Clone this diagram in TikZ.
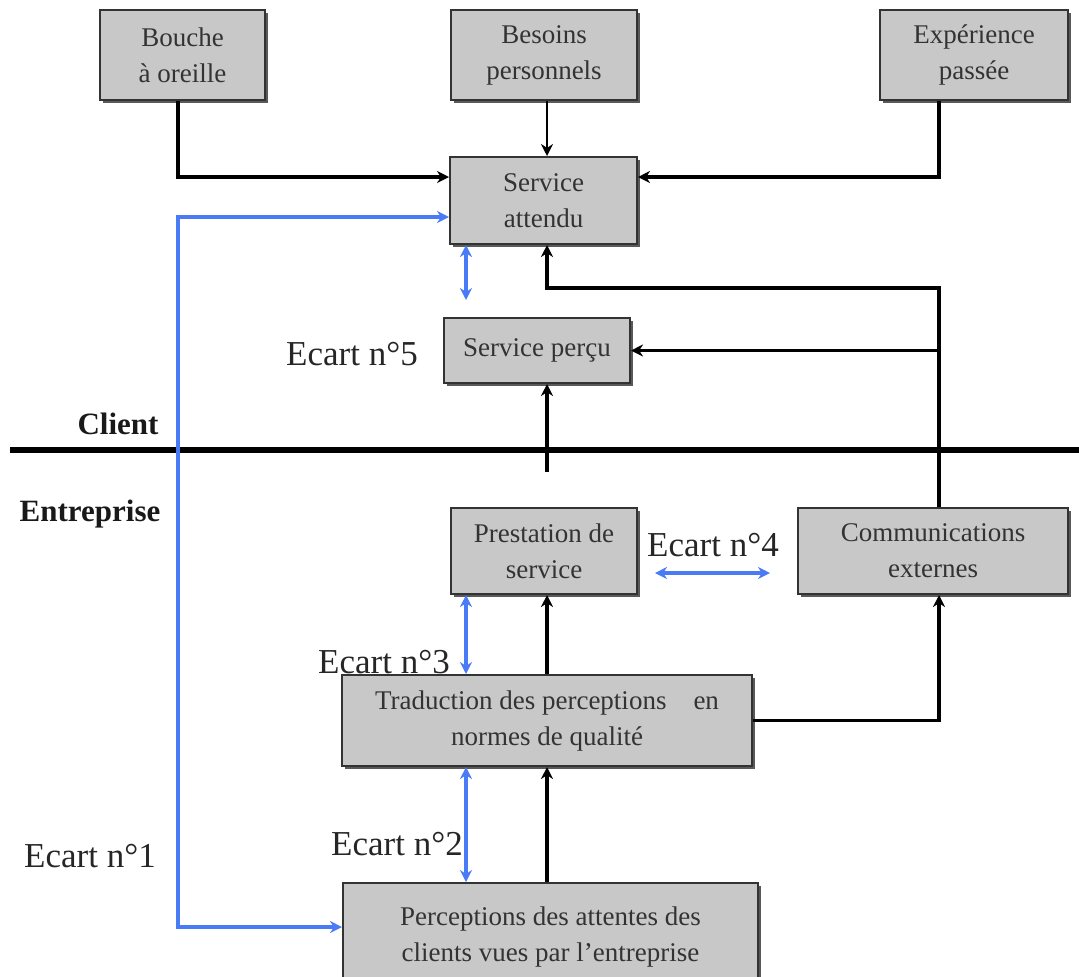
\documentclass[tikz,border=0pt]{standalone}
\usepackage{fontspec}
\setmainfont{Liberation Serif}
\usetikzlibrary{arrows.meta,shadows}
\definecolor{bleu}{RGB}{74,123,247}
\definecolor{gris}{RGB}{200,200,200}
\tikzset{
  boite/.style={draw=black!80,line width=1pt,fill=gris,align=center,inner sep=0pt,
    drop shadow={shadow xshift=1.5pt,shadow yshift=-1.5pt,fill=black!65,opacity=1},
    text=black!80,font=\fontsize{13.5}{18}\selectfont},
  fleche/.style={line width=1.9pt,-{Stealth[length=6pt,width=6pt]}},
  ecart/.style={bleu,line width=1.9pt,{Stealth[length=6pt,width=6pt]}-{Stealth[length=6pt,width=6pt]}},
  etiq/.style={text=black!85,font=\fontsize{17.5}{20}\selectfont},
  camp/.style={text=black!90,font=\fontsize{15.5}{18}\selectfont\bfseries},
}
\begin{document}
\begin{tikzpicture}[x=0.5pt,y=-0.5pt]
  \useasboundingbox (0,0) rectangle (1079,976);
  \clip (0,0) rectangle (1079,976);
  % colonnes et niveaux des liaisons
  \coordinate (xb) at (178,0);
  \coordinate (xe) at (466,0);
  \coordinate (xm) at (547,0);
  \coordinate (xc) at (939,0);
  \coordinate (h1) at (0,177);
  \coordinate (h2) at (0,288);
  \coordinate (h3) at (0,472);
  \coordinate (h4) at (0,217);
  \coordinate (h5) at (0,927);
  % boites
  \node[boite,minimum width=82.5pt,minimum height=45pt] (bouche) at (182.5,55) {Bouche\\à oreille};
  \node[boite,minimum width=93pt,minimum height=45pt] (besoins) at (544,55) {Besoins\\personnels};
  \node[boite,minimum width=94pt,minimum height=45pt] (experience) at (974,55) {Expérience\\passée};
  \node[boite,minimum width=93.5pt,minimum height=43.5pt] (attendu) at (543.5,200.5) {Service\\attendu};
  \node[boite,minimum width=93pt,minimum height=32.5pt] (percu) at (537,350.5) {Service perçu};
  \node[boite,minimum width=93pt,minimum height=43pt] (prestation) at (544,551) {Prestation de\\service};
  \node[boite,minimum width=135pt,minimum height=43pt] (comm) at (933,551) {Communications\\externes};
  \node[boite,minimum width=205pt,minimum height=45.5pt] (traduction) at (547,720.5) {Traduction des perceptions\quad en\\normes de qualité};
  \node[boite,minimum width=207.5pt,minimum height=53.5pt] (perceptions) at (550.5,936.5) {Perceptions des attentes des\\clients vues par l'entreprise};
  % etiquettes
  \node[etiq] (ecart5) at (352,354) {Ecart n°5};
  \node[etiq] (ecart4) at (713,545) {Ecart n°4};
  \node[etiq] (ecart3) at (384,662) {Ecart n°3};
  \node[etiq] (ecart2) at (397,844) {Ecart n°2};
  \node[etiq] (ecart1) at (90,856) {Ecart n°1};
  \node[camp] (client) at (118,424) {Client};
  \node[camp] (entreprise) at (90,514) {Entreprise};
  \draw[line width=2.6pt] (10,450) -- (1079,450);
  % liaisons noires
  \draw[fleche,line width=2.3pt] (bouche.south -| xb) |- (attendu.west |- h1);
  \draw[fleche,line width=1.2pt] (besoins.south -| xm) -- (attendu.north -| xm);
  \draw[fleche] (experience.south -| xc) |- (attendu.east |- h1);
  \draw[fleche] (comm.north -| xc) |- (xm |- h2) -- (attendu.south -| xm);
  \draw[fleche] (xc |- percu.east) -- (percu.east);
  \draw[fleche] (xm |- h3) -- (percu.south -| xm);
  \draw[fleche] (traduction.north -| xm) -- (prestation.south -| xm);
  \draw[fleche] (traduction.east) -| (comm.south -| xc);
  \draw[fleche] (perceptions.north -| xm) -- (traduction.south -| xm);
  % ecarts
  \draw[ecart] (attendu.west |- h4) -- (xb |- h4) -- (xb |- h5) -- (perceptions.west |- h5);
  \draw[ecart] (attendu.south -| xe) -- ++(0,55);
  \draw[ecart] ([xshift=8.5pt,yshift=-11pt]prestation.east) -- ([xshift=-13.5pt,yshift=-11pt]comm.west);
  \draw[ecart] (prestation.south -| xe) -- (traduction.north -| xe);
  \draw[ecart] (traduction.south -| xe) -- (perceptions.north -| xe);
\end{tikzpicture}
\end{document}
